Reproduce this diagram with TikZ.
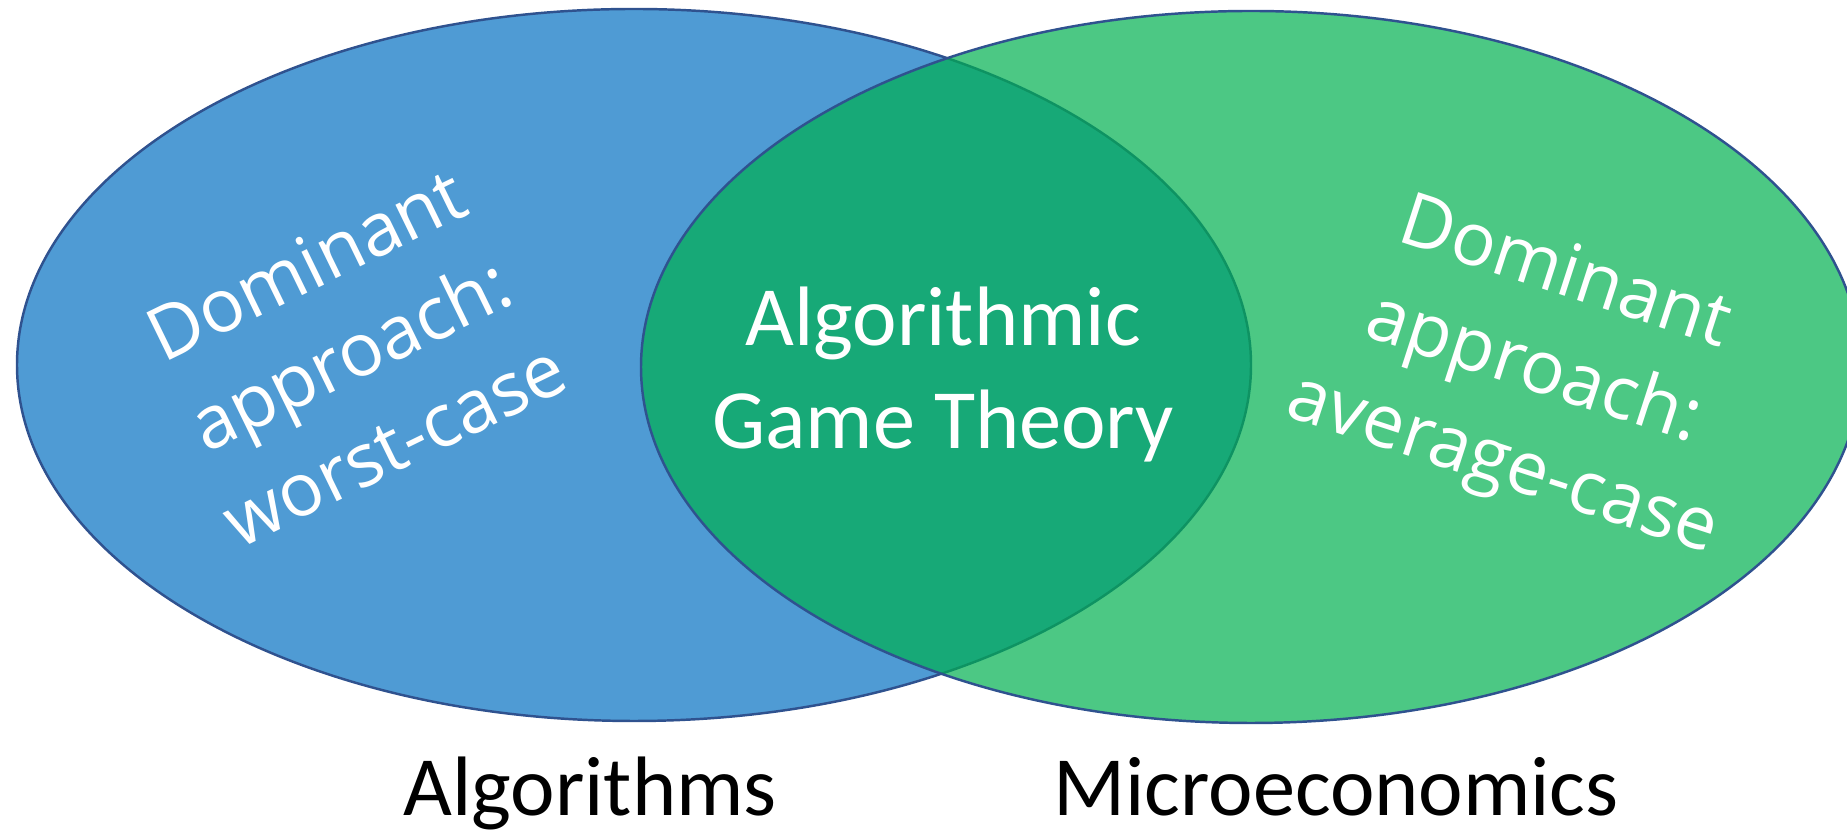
\documentclass[tikz,border=0pt]{standalone}
\usepackage{fontspec}
\setmainfont{Carlito}
\newfontfamily\handfont{Open Sans}
\definecolor{algblue}{HTML}{4F9BD4}
\definecolor{microgreen}{HTML}{00B050}
\definecolor{rimblue}{HTML}{2F528F}
\tikzset{
  setA/.style={fill=algblue, draw=rimblue, line width=0.7pt},
  setB/.style={fill=microgreen, fill opacity=0.7, draw=rimblue, line width=0.7pt},
  hand/.style={text=white, align=center, font=\handfont\fontsize{21}{28.5}\selectfont},
  title/.style={anchor=base, font=\fontsize{24}{29}\selectfont}
}
\begin{document}
\begin{tikzpicture}
\useasboundingbox (0,0) rectangle (18.47,8.32);
\clip (0,0) rectangle (18.47,8.32);
\draw[setA] (6.34,4.67) ellipse [x radius=6.17, y radius=3.56]; %Algorithms set
\draw[setB] (12.51,4.65) ellipse [x radius=6.10, y radius=3.56]; %Microeconomics set
     \node[text=white, align=center, font=\fontsize{24}{29.3}\selectfont] (agt) at (9.43,4.575) {Algorithmic\\Game Theory}; %overlap
     \node[hand, rotate=26] (worst) at (3.50,4.78) {Dominant\\approach:\\worst-case};
     \node[hand, rotate=-18] (average) at (15.33,4.60) {Dominant\\approach:\\average-case};
     \node[title] (algo) at (5.90,0.16) {Algorithms};
     \node[title] (micro) at (13.36,0.16) {Microeconomics};
\end{tikzpicture}
\end{document}
